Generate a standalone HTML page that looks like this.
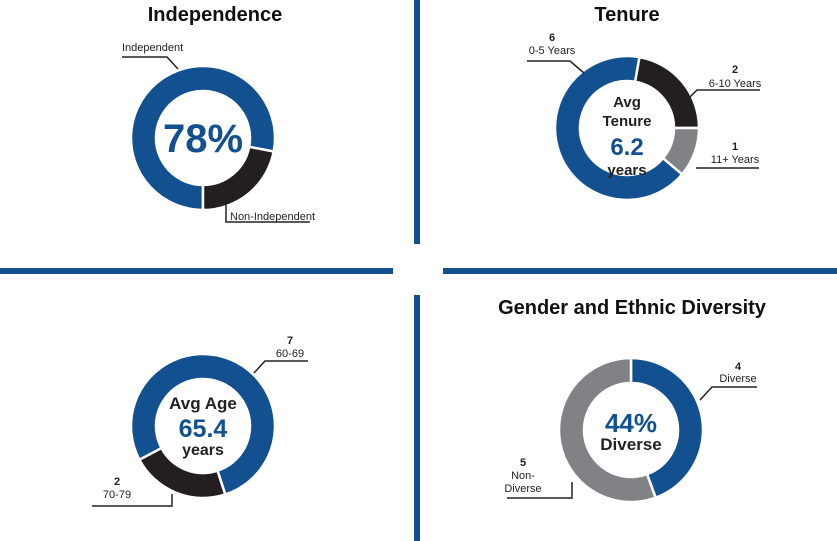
<!DOCTYPE html>
<html><head><meta charset="utf-8"><style>
html,body{margin:0;padding:0;background:#fff;}
svg{display:block;font-family:"Liberation Sans",Arial,sans-serif;}
</style></head><body>
<svg id="s" width="837" height="541" viewBox="0 0 837 541">
<rect x="414" y="0" width="6" height="244" fill="#12508f"/>
<rect x="414" y="295" width="6" height="246" fill="#12508f"/>
<rect x="0" y="268" width="393" height="6" fill="#12508f"/>
<rect x="443" y="268" width="394" height="6" fill="#12508f"/>

<text x="215" y="21" font-size="20" font-weight="bold" text-anchor="middle" fill="#111">Independence</text>
<text x="627" y="21" font-size="20" font-weight="bold" text-anchor="middle" fill="#111">Tenure</text>
<text x="632" y="314" font-size="20" font-weight="bold" text-anchor="middle" fill="#111">Gender and Ethnic Diversity</text>

<g id="donuts"></g>

<g font-size="11" fill="#222" stroke="none">
<text x="122" y="51">Independent</text>
<text x="230" y="220">Non-Independent</text>
<text x="552" y="41" font-weight="bold" text-anchor="middle">6</text>
<text x="552" y="54" text-anchor="middle">0-5 Years</text>
<text x="735" y="73" font-weight="bold" text-anchor="middle">2</text>
<text x="735" y="87" text-anchor="middle">6-10 Years</text>
<text x="735" y="150" font-weight="bold" text-anchor="middle">1</text>
<text x="735" y="163" text-anchor="middle">11+ Years</text>
<text x="290" y="344" font-weight="bold" text-anchor="middle">7</text>
<text x="290" y="357" text-anchor="middle">60-69</text>
<text x="117" y="485" font-weight="bold" text-anchor="middle">2</text>
<text x="117" y="498" text-anchor="middle">70-79</text>
<text x="738" y="370" font-weight="bold" text-anchor="middle">4</text>
<text x="738" y="382" text-anchor="middle">Diverse</text>
<text x="523" y="466" font-weight="bold" text-anchor="middle">5</text>
<text x="523" y="479" text-anchor="middle">Non-</text>
<text x="523" y="492" text-anchor="middle">Diverse</text>
</g>
<g fill="none" stroke="#222" stroke-width="1.5">
<polyline points="122,57 167,57 178,69"/>
<polyline points="226,205 226,222 310,222"/>
<polyline points="527,61 570,61 584,73"/>
<polyline points="760,90 697,90 690,97"/>
<polyline points="759,168 696,168"/>
<polyline points="308,361 265,361 254,373"/>
<polyline points="92,506 172,506 172,494"/>
<polyline points="757,387 712,387 700,400"/>
<polyline points="507,498 572,498 572,482"/>
</g>

<g font-weight="bold" text-anchor="middle">
<text x="203" y="152" font-size="40" fill="#12508f">78%</text>
<text x="627" y="107" font-size="15" fill="#222">Avg</text>
<text x="627" y="126" font-size="15" fill="#222">Tenure</text>
<text x="627" y="155" font-size="24" fill="#12508f">6.2</text>
<text x="627" y="175" font-size="15" fill="#222">years</text>
<text x="203" y="409" font-size="17" fill="#222">Avg Age</text>
<text x="203" y="437" font-size="25" fill="#12508f">65.4</text>
<text x="203" y="455" font-size="16" fill="#222">years</text>
<text x="631" y="432" font-size="26" fill="#12508f">44%</text>
<text x="631" y="450" font-size="17" fill="#222">Diverse</text>
</g>
</svg>
<script>
const independenceCategories = ["Independent","Non-Independent"];
const independenceValues = [78, 22];
const tenureCategories = ["0-5 Years","6-10 Years","11+ Years"];
const tenureValues = [6, 2, 1];
const ageCategories = ["60-69","70-79"];
const ageValues = [7, 2];
const diversityCategories = ["Diverse","Non-Diverse"];
const diversityValues = [4, 5];

const BLUE="#12508f", BLACK="#231f20", GRAY="#808285";
const NS="http://www.w3.org/2000/svg";
const g=document.getElementById('donuts');
function pt(cx,cy,r,a){const t=(a-90)*Math.PI/180;return [cx+r*Math.cos(t),cy+r*Math.sin(t)];}
function donut(name,cats,vals,colors,cx,cy,startDeg){
  const R=72,r=47,total=vals.reduce((a,b)=>a+b,0);
  let a=startDeg;
  vals.forEach((v,i)=>{
    const sweep=v/total*360, a2=a+sweep;
    const p1=pt(cx,cy,R,a),p2=pt(cx,cy,R,a2),p3=pt(cx,cy,r,a2),p4=pt(cx,cy,r,a);
    const lg=sweep>180?1:0;
    const d=`M${p1[0]},${p1[1]}A${R},${R} 0 ${lg} 1 ${p2[0]},${p2[1]}L${p3[0]},${p3[1]}A${r},${r} 0 ${lg} 0 ${p4[0]},${p4[1]}Z`;
    const p=document.createElementNS(NS,'path');
    p.setAttribute('d',d);p.setAttribute('fill',colors[i]);
    p.setAttribute('stroke','#fff');p.setAttribute('stroke-width','2.5');
    
    
    g.appendChild(p);
    a=a2;
  });
}
donut('independence',independenceCategories,independenceValues,[BLUE,BLACK],203,138,180);
donut('tenure',tenureCategories,tenureValues,[BLUE,BLACK,GRAY],627,128,130);
donut('age',ageCategories,ageValues,[BLUE,BLACK],203,426,242);
donut('diversity',diversityCategories,diversityValues,[BLUE,GRAY],631,430,0);
</script>
</body></html>
